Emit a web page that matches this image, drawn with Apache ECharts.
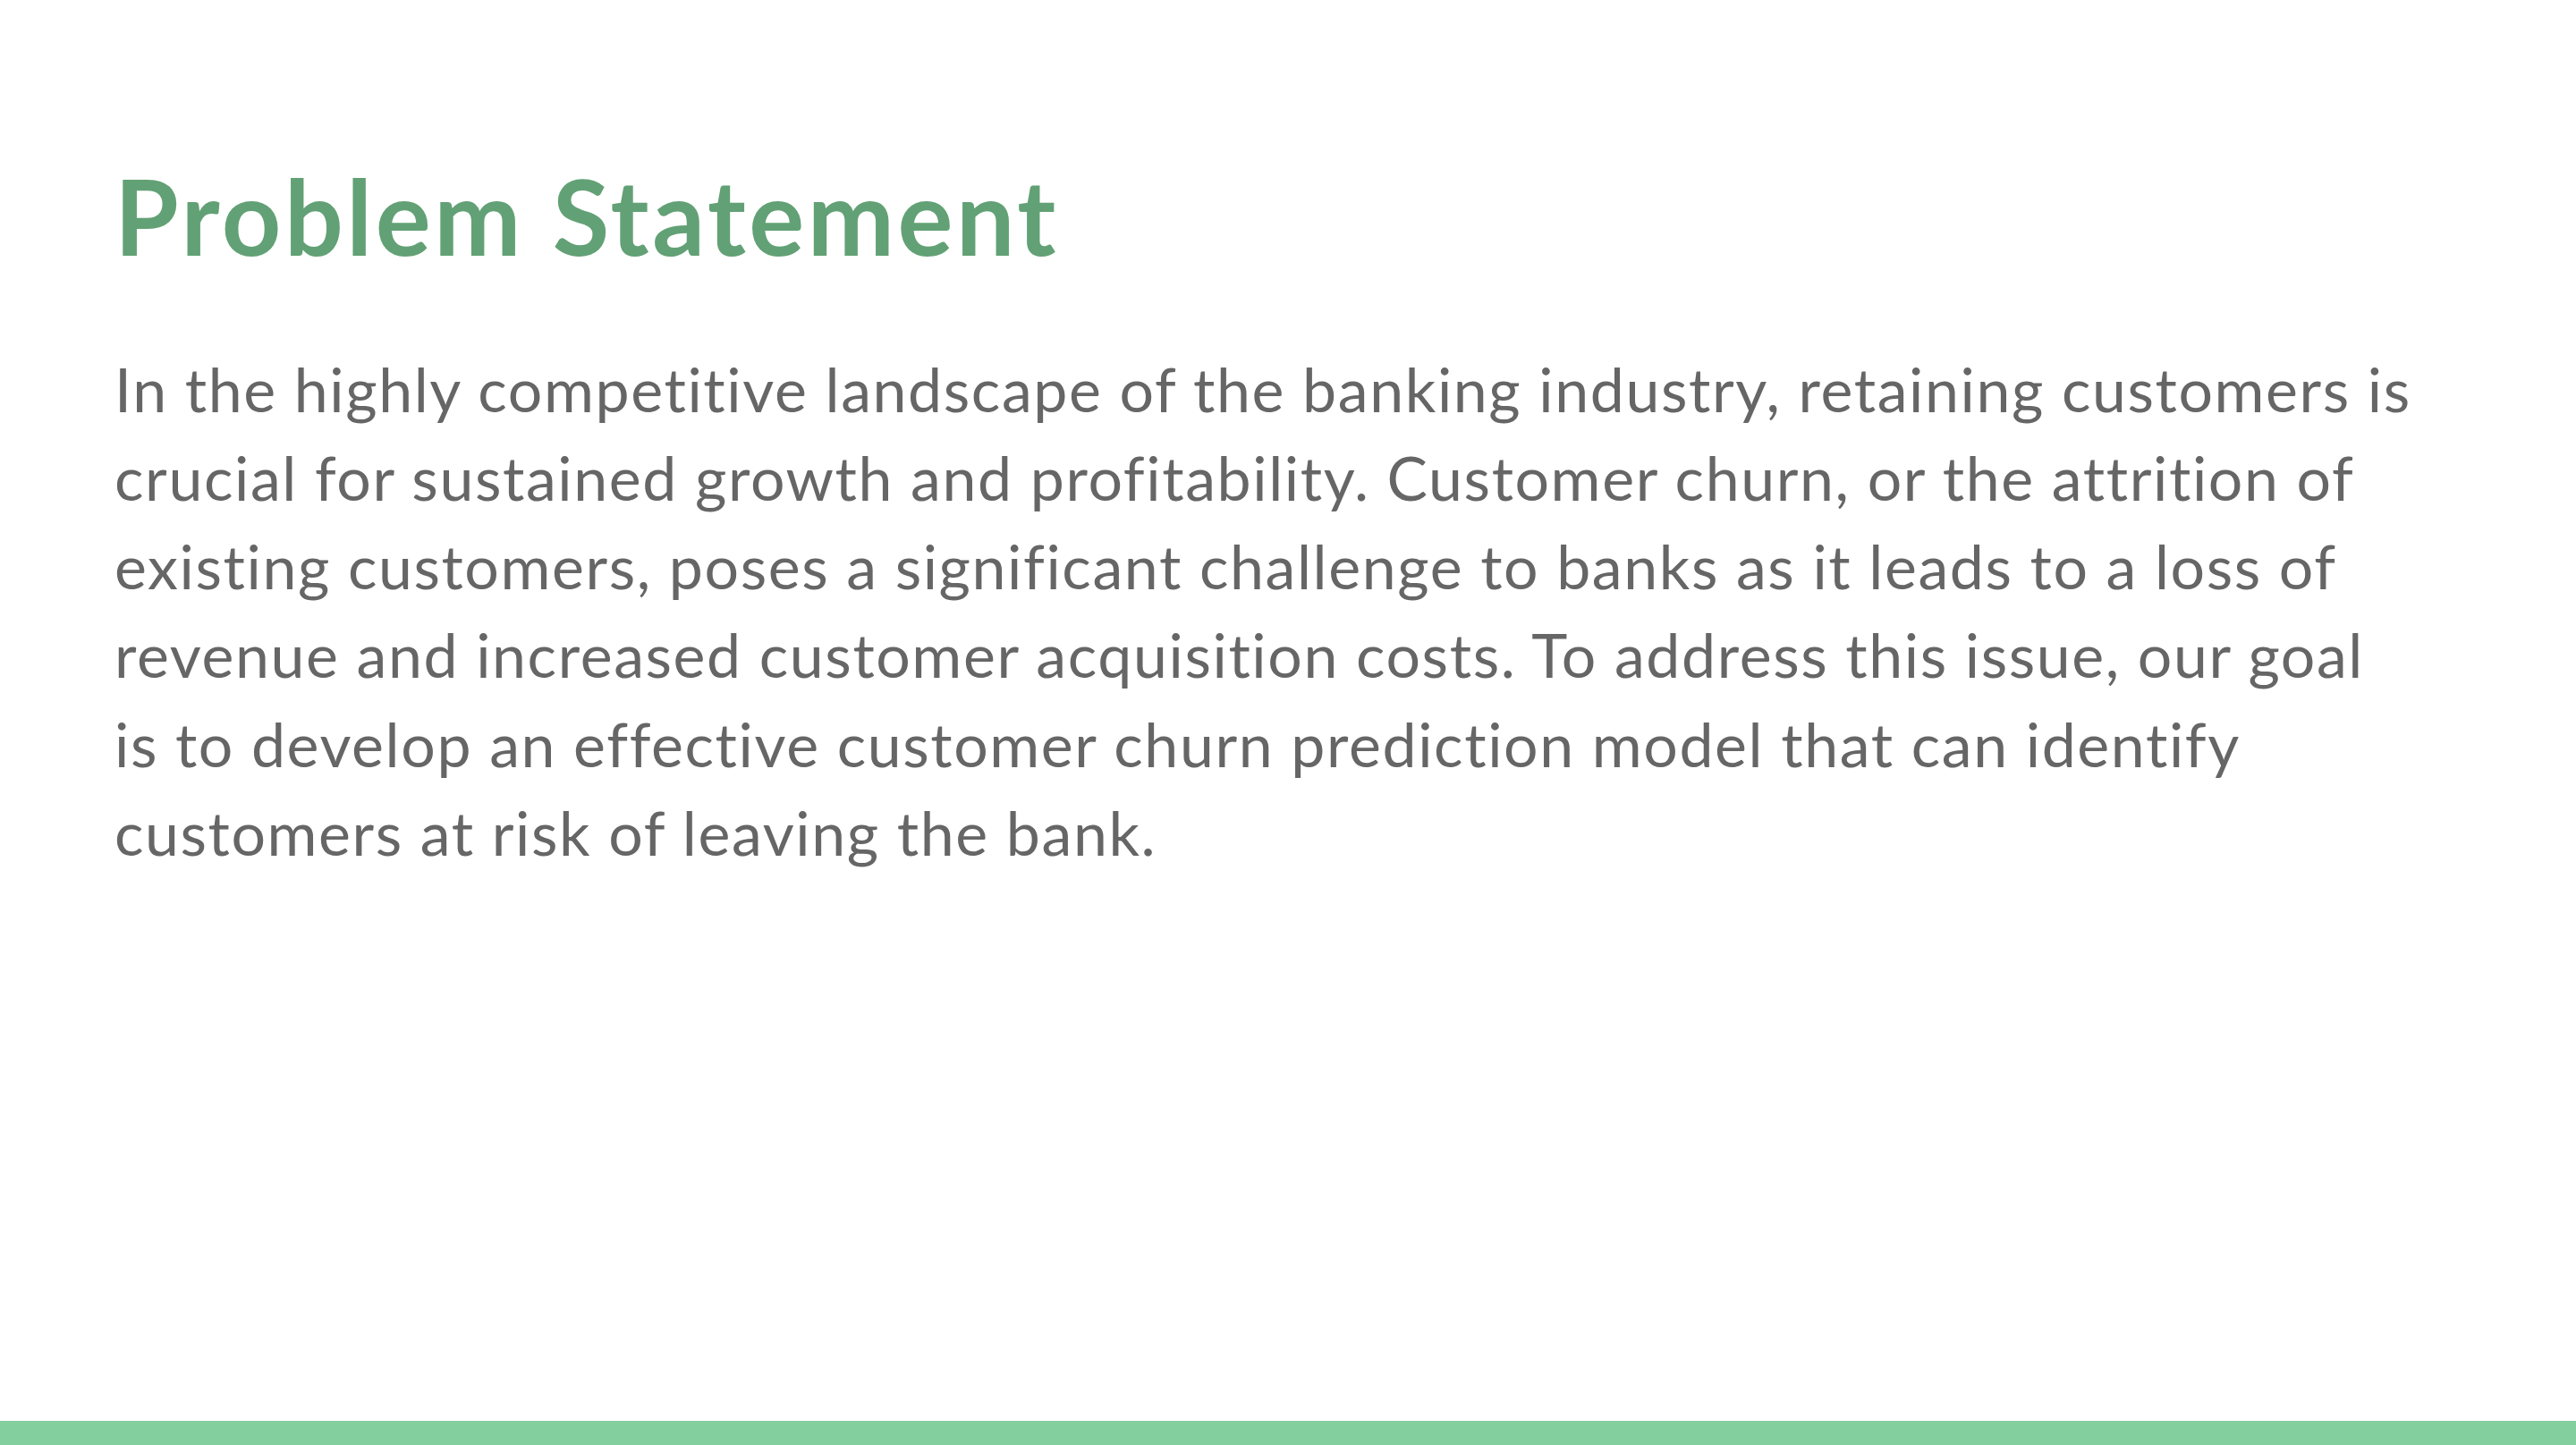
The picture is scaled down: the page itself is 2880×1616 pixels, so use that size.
<!DOCTYPE html>
<html>
<head>
<meta charset="utf-8">
<script src="https://cdn.jsdelivr.net/npm/echarts@6/dist/echarts.min.js"></script>
<style>
  html, body { margin: 0; padding: 0; background: #ffffff; }
  #main { width: 2880px; height: 1616px; }
  #main svg text { font-variant-ligatures: none; letter-spacing: 1.6px; }
</style>
</head>
<body>
<div id="main"></div>
<script>
// slide content
var titleText = 'Problem Statement';
var bodyLines = [
    'In the highly competitive landscape of the banking industry, retaining customers is',
    'crucial for sustained growth and profitability. Customer churn, or the attrition of',
    'existing customers, poses a significant challenge to banks as it leads to a loss of',
    'revenue and increased customer acquisition costs. To address this issue, our goal',
    'is to develop an effective customer churn prediction model that can identify',
    'customers at risk of leaving the bank.'
];

var myChart = echarts.init(document.getElementById('main'), null, {
    renderer: 'svg',
    width: 2880,
    height: 1616
});

var leftX = 128;
var lineGap = 99.3;

var elements = [];
elements.push({
    type: 'text',
    style: {
        text: titleText,
        x: leftX,
        y: 241,
        fill: '#62a175',
        font: 'bold 116px Lato',
        verticalAlign: 'middle'
    }
});

bodyLines.forEach(function (line, i) {
    elements.push({
        type: 'text',
        style: {
            text: line,
            x: leftX,
            y: 434 + i * lineGap,
            fill: '#666666',
            font: '68px Lato',
            verticalAlign: 'middle'
        }
    });
});

// green strip at the bottom
elements.push({
    type: 'rect',
    shape: { x: 0, y: 1589, width: 2880, height: 27 },
    style: { fill: '#83cf9e' }
});

var option = {
    backgroundColor: '#ffffff',
    graphic: { elements: elements }
};
option && myChart.setOption(option);

// title gets wider tracking than the body
function spaceTitle() {
    var texts = document.querySelectorAll('#main svg text');
    for (var t of texts) {
        if (t.textContent === titleText) {
            t.style.letterSpacing = '3.6px';
        }
    }
}
spaceTitle();
setTimeout(spaceTitle, 50);
</script>
</body>
</html>
